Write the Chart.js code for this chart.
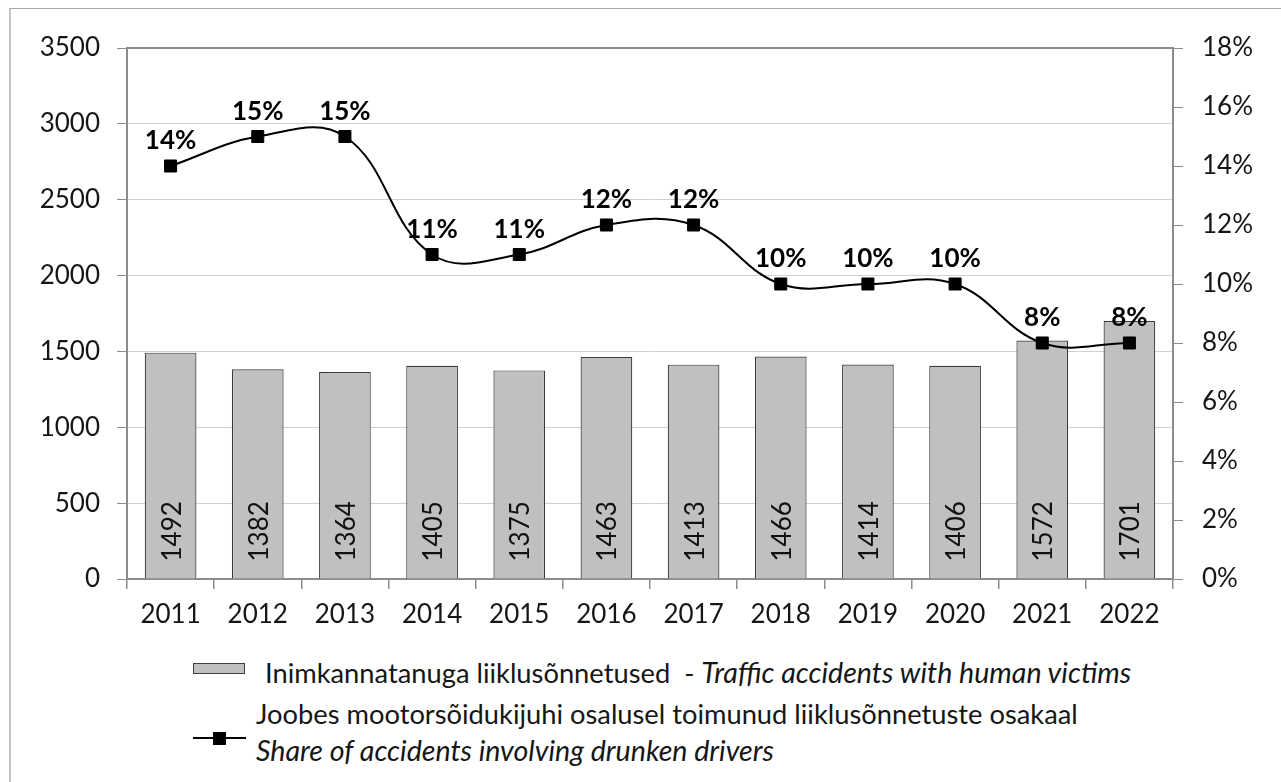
<!DOCTYPE html>
<html><head><meta charset="utf-8">
<script src="https://cdn.jsdelivr.net/npm/chart.js@4"></script>
<style>
html,body{margin:0;padding:0;background:#fff;}
#wrap{position:relative;width:1281px;height:782px;overflow:hidden;background:#fff;}
#frame{position:absolute;left:9px;top:8px;width:1300px;height:800px;border-left:2px solid #c4c4c4;border-top:1px solid #a8a8a8;}
#c{position:absolute;left:0;top:0;}
.lg{position:absolute;font-family:Lato,sans-serif;font-size:27.3px;color:#161616;white-space:nowrap;}
.lg i{font-size:28.6px;}
.sw{position:absolute;left:193px;top:663px;width:50px;height:9px;background:#c0c0c0;border:1px solid #404040;}
.ln{position:absolute;left:193px;top:737px;width:53px;height:2px;background:#000;}
.mk{position:absolute;left:213px;top:732px;width:13px;height:13px;background:#000;}
</style></head>
<body>
<div id="wrap">
<div id="frame"></div>
<canvas id="c" width="1281" height="650"></canvas>
<div class="sw"></div>
<div class="lg" style="left:265px;top:654px;line-height:36px;">Inimkannatanuga liiklusõnnetused&nbsp; - <i>Traffic accidents with human victims</i></div>
<div class="ln"></div><div class="mk"></div>
<div class="lg" style="left:256px;top:696px;line-height:36px;">Joobes mootorsõidukijuhi osalusel toimunud liiklusõnnetuste osakaal<br><i>Share of accidents involving drunken drivers</i></div>
</div>
<script>
const years = ['2011','2012','2013','2014','2015','2016','2017','2018','2019','2020','2021','2022'];
const accidents = [1492,1382,1364,1405,1375,1463,1413,1466,1414,1406,1572,1701];
const drunkShare = [14,15,15,11,11,12,12,10,10,10,8,8];
const leftTicks = [0,500,1000,1500,2000,2500,3000,3500];
const rightTicks = [0,2,4,6,8,10,12,14,16,18];

const AXIS = '#8c8c8c';
const TXT = '#161616';
const FONT = 'Lato';

const labelPlugin = {
  id: 'valueLabels',
  afterDatasetsDraw(chart) {
    const ctx = chart.ctx;
    const ca = chart.chartArea;
    ctx.save();
    ctx.strokeStyle = AXIS; ctx.lineWidth = 2;
    ctx.beginPath(); ctx.moveTo(ca.left, ca.top); ctx.lineTo(ca.right, ca.top); ctx.stroke();
    const barMeta = chart.getDatasetMeta(1);
    ctx.fillStyle = '#111';
    ctx.font = '26px ' + FONT;
    barMeta.data.forEach((bar, i) => {
      ctx.save();
      ctx.translate(bar.x, bar.base - 17);
      ctx.rotate(-Math.PI / 2);
      ctx.textAlign = 'left';
      ctx.textBaseline = 'alphabetic';
      ctx.fillText(String(accidents[i]), 0, 10);
      ctx.restore();
    });
    const lineMeta = chart.getDatasetMeta(0);
    ctx.fillStyle = '#000';
    ctx.font = 'bold 26px ' + FONT;
    ctx.textAlign = 'center';
    ctx.textBaseline = 'alphabetic';
    lineMeta.data.forEach((pt, i) => {
      ctx.fillText(drunkShare[i] + '%', pt.x, pt.y - 17);
    });
    ctx.restore();
  }
};

new Chart(document.getElementById('c'), {
  data: {
    labels: years,
    datasets: [
      {
        type: 'line', yAxisID: 'y1', data: drunkShare, order: 0,
        borderColor: '#000', borderWidth: 2, tension: 0.4,
        pointStyle: 'rect', pointRadius: 8.5, pointBackgroundColor: '#000', pointBorderColor: '#000', pointBorderWidth: 1
      },
      {
        type: 'bar', yAxisID: 'y', data: accidents, order: 1,
        backgroundColor: '#c0c0c0', borderColor: '#3a3a3a', borderWidth: 1.2,
        barPercentage: 0.593, categoryPercentage: 1
      }
    ]
  },
  options: {
    responsive: false, animation: false, devicePixelRatio: 1,
    layout: { padding: { top: 48, left: 0, right: 0, bottom: 0 } },
    plugins: { legend: { display: false }, tooltip: { enabled: false } },
    scales: {
      x: {
        offset: true,
        grid: { display: true, drawOnChartArea: false, drawTicks: true, tickLength: 10, tickColor: AXIS, lineWidth: 1.5, offset: true },
        border: { display: true, color: AXIS, width: 2 },
        ticks: { font: { family: FONT, size: 26 }, color: TXT, padding: 10, maxRotation: 0, autoSkip: false },
        afterFit: s => { s.height = 71; }
      },
      y: {
        position: 'left', min: 0, max: 3500,
        afterBuildTicks: s => { s.ticks = leftTicks.map(v => ({ value: v })); },
        grid: { color: '#d0d0d0', lineWidth: 1, tickColor: AXIS, tickLength: 10 },
        border: { display: true, color: AXIS, width: 2 },
        ticks: { font: { family: FONT, size: 26 }, color: TXT, padding: 17, callback: v => String(v) },
        afterFit: s => { s.width = 127; }
      },
      y1: {
        position: 'right', min: 0, max: 18,
        afterBuildTicks: s => { s.ticks = rightTicks.map(v => ({ value: v })); },
        grid: { drawOnChartArea: false, tickColor: AXIS, tickLength: 10 },
        border: { display: true, color: AXIS, width: 2 },
        ticks: { font: { family: FONT, size: 26 }, color: TXT, padding: 19, callback: v => v + '%' },
        afterFit: s => { s.width = 108; }
      }
    }
  },
  plugins: [labelPlugin]
});
</script>
</body></html>
